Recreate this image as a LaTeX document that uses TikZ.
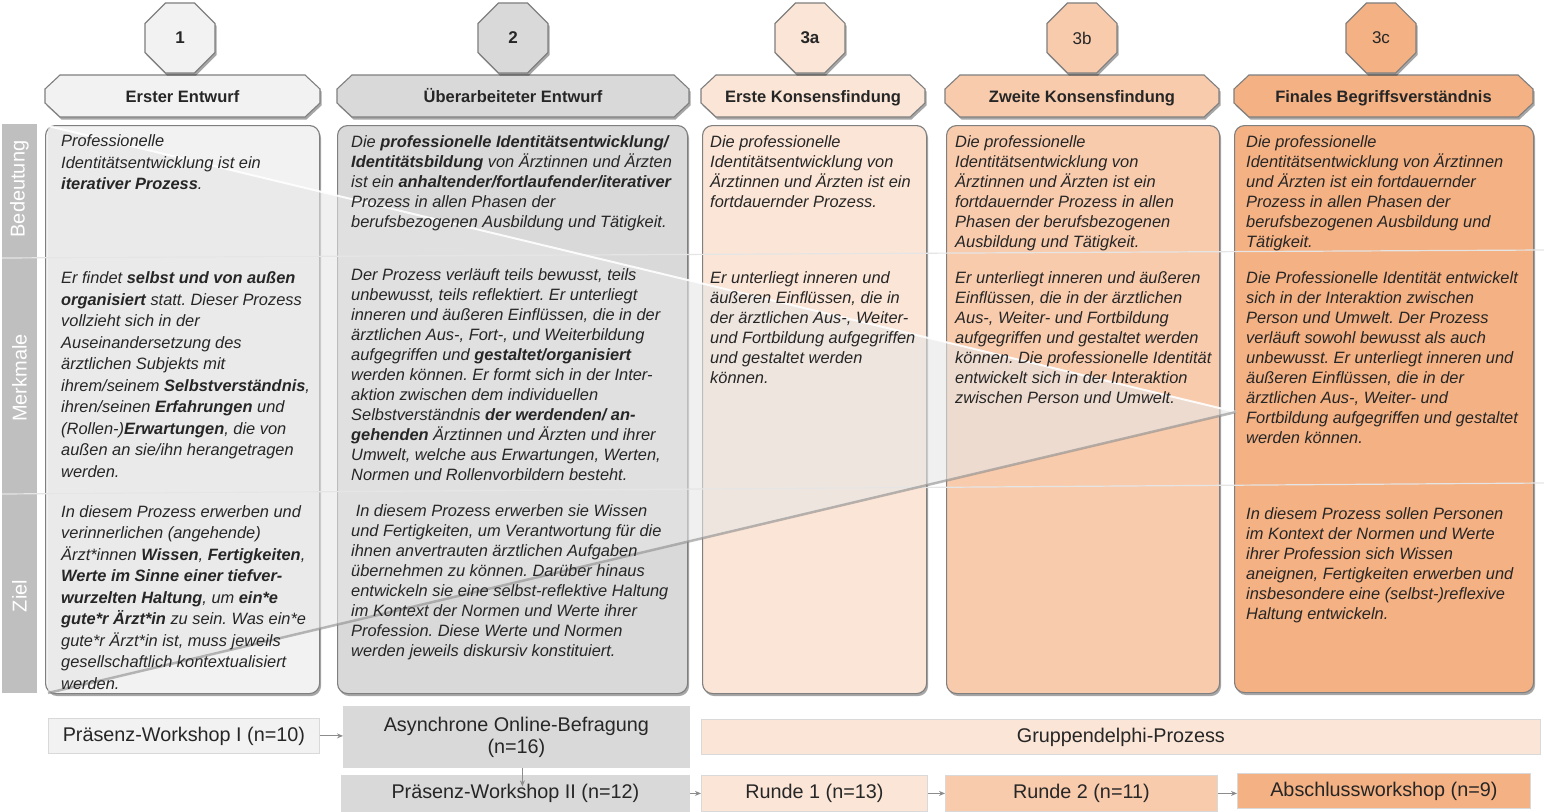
\documentclass[tikz,border=0pt]{standalone}
\usepackage{fontspec}
\setmainfont{Liberation Sans}
\usetikzlibrary{shapes.geometric,shadows,arrows.meta}
\definecolor{cA}{HTML}{F2F2F2}
\definecolor{cB}{HTML}{D9D9D9}
\definecolor{cC}{HTML}{FBE5D6}
\definecolor{cD}{HTML}{F8CBAD}
\definecolor{cE}{HTML}{F4B183}
\definecolor{bord}{HTML}{7F7F7F}
\definecolor{txtc}{HTML}{262626}
\definecolor{barc}{HTML}{BFBFBF}
\definecolor{wedgec}{HTML}{E6E6E6}
\newcommand\hdrbox[5]{%
  \path[hdrshape, fill=#4] (#2+15,75) -- (#3-15,75) -- (#3,89) -- (#3,103) -- (#3-15,117) -- (#2+15,117) -- (#2,103) -- (#2,89) -- cycle;
  \node[hdrtext] (#1) at ({(#2+#3)/2},102.3) {#5};}
\frenchspacing
\begin{document}
\begin{tikzpicture}[x=1pt,y=-1pt,
  shd/.style={drop shadow={shadow xshift=1.5pt,shadow yshift=-2.5pt,opacity=0.35,fill=black}},
  body/.style={draw=bord, line width=1.1pt, rounded corners=10pt, shd, anchor=north west, inner sep=0pt},
  hdrshape/.style={draw=bord, line width=1.1pt, shd},
  hdrtext/.style={anchor=base, inner sep=0pt, text=txtc, font=\fontsize{16.5pt}{18pt}\selectfont\bfseries},
  oct/.style={regular polygon, regular polygon sides=8, minimum size=75.8pt, inner sep=0pt, draw=bord, line width=1.1pt, shd, text=txtc, font=\fontsize{17pt}{18pt}\selectfont},
  barlab/.style={rotate=90, text=white, font=\fontsize{20pt}{22pt}\selectfont, inner sep=0pt},
  sepline/.style={draw=black!10, line width=1.2pt},
  txt/.style={anchor=north west, inner sep=0pt, align=left, text=txtc, font=\fontsize{16.4pt}{20pt}\selectfont\itshape},
  txtw/.style={txt, font=\fontsize{16.4pt}{21.5pt}\selectfont\itshape},
  proc/.style={draw=black!15, line width=0.8pt, anchor=north west, inner sep=0pt, text=txtc, align=center, font=\fontsize{19.8pt}{22pt}\selectfont},
  arr/.style={draw=black!45, line width=1pt, -{Stealth[length=6pt,width=5pt]}}]
\useasboundingbox (0,0) rectangle (1544,811);
\fill[white] (0,0) rectangle (1544,811);
% left bar
\fill[barc] (2,124) rectangle (37,693);
\node[barlab] (lb1) at (19.5,189) {Bedeutung};
\node[barlab] (lb2) at (19.5,378) {Merkmale};
\node[barlab] (lb3) at (19.5,596) {Ziel};
% column bodies
\node[body, fill=cA, minimum width=274pt, minimum height=568pt] (b1) at (45,125) {};
\node[body, fill=cB, minimum width=350pt, minimum height=568pt] (b2) at (337,125) {};
\node[body, fill=cC, minimum width=224pt, minimum height=568pt] (b3) at (702,125) {};
\node[body, fill=cD, minimum width=273pt, minimum height=568pt] (b4) at (946,125) {};
\node[body, fill=cE, minimum width=299pt, minimum height=567pt] (b5) at (1234,125) {};
% headers
\hdrbox{h1}{45}{320}{cA}{Erster Entwurf}
\hdrbox{h2}{337}{689}{cB}{Überarbeiteter Entwurf}
\hdrbox{h3}{701}{925}{cC}{Erste Konsensfindung}
\hdrbox{h4}{945}{1219}{cD}{Zweite Konsensfindung}
\hdrbox{h5}{1234}{1533}{cE}{Finales Begriffsverständnis}
% octagons
\node[oct, fill=cA] (o1) at (180,38) {\textbf{1}};
\node[oct, fill=cB] (o2) at (513,38) {\textbf{2}};
\node[oct, fill=cC] (o3) at (810,38) {\textbf{3a}};
\node[oct, fill=cD] (o4) at (1082,38) {3b};
\node[oct, fill=cE] (o5) at (1381,38) {3c};
% separator lines
\draw[sepline] (2,258) -- (1544,250);
\draw[sepline] (2,494) -- (1544,483);
% wedge
\fill[wedgec, opacity=0.6] (48,126) -- (1236,412) -- (48,693) -- cycle;
\draw[white, line width=2pt, opacity=0.9] (48,126) -- (1236,412);
\draw[black!45, line width=2.5pt, opacity=0.6] (48,693) -- (1236,412);
% column 1 texts
\node[txtw] (t11) at (61,131.5) {\strut Professionelle\\Identitätsentwicklung ist ein\\\textbf{iterativer Prozess}.};
\node[txtw] (t12) at (61,268.5) {\strut Er findet \textbf{selbst und von außen}\\
\textbf{organisiert} statt. Dieser Prozess\\
vollzieht sich in der\\
Auseinandersetzung des\\
ärztlichen Subjekts mit\\
ihrem/seinem \textbf{Selbstverständnis},\\
ihren/seinen \textbf{Erfahrungen} und\\
(Rollen-)\textbf{Erwartungen}, die von\\
außen an sie/ihn herangetragen\\
werden.};
\node[txtw] (t13) at (61,502) {\strut In diesem Prozess erwerben und\\
verinnerlichen (angehende)\\
Ärzt*innen \textbf{Wissen}, \textbf{Fertigkeiten},\\
\textbf{Werte im Sinne einer tiefver-}\\
\textbf{wurzelten Haltung}, um \textbf{ein*e}\\
\textbf{gute*r Ärzt*in} zu sein. Was ein*e\\
gute*r Ärzt*in ist, muss jeweils\\
gesellschaftlich kontextualisiert\\
werden.};
% column 2 texts
\node[txt] (t21) at (351,133) {\strut Die \textbf{professionelle Identitätsentwicklung/}\\
\textbf{Identitätsbildung} von Ärztinnen und Ärzten\\
ist ein \textbf{anhaltender/fortlaufender/iterativer}\\
Prozess in allen Phasen der\\
berufsbezogenen Ausbildung und Tätigkeit.};
\node[txt] (t22) at (351,266) {\strut Der Prozess verläuft teils bewusst, teils\\
unbewusst, teils reflektiert. Er unterliegt\\
inneren und äußeren Einflüssen, die in der\\
ärztlichen Aus-, Fort-, und Weiterbildung\\
aufgegriffen und \textbf{gestaltet/organisiert}\\
werden können. Er formt sich in der Inter-\\
aktion zwischen dem individuellen\\
Selbstverständnis \textbf{der werdenden/ an-}\\
\textbf{gehenden} Ärztinnen und Ärzten und ihrer\\
Umwelt, welche aus Erwartungen, Werten,\\
Normen und Rollenvorbildern besteht.};
\node[txt] (t23) at (351,502) {\strut\ In diesem Prozess erwerben sie Wissen\\
und Fertigkeiten, um Verantwortung für die\\
ihnen anvertrauten ärztlichen Aufgaben\\
übernehmen zu können. Darüber hinaus\\
entwickeln sie eine selbst-reflektive Haltung\\
im Kontext der Normen und Werte ihrer\\
Profession. Diese Werte und Normen\\
werden jeweils diskursiv konstituiert.};
% column 3a texts
\node[txt] (t31) at (710,133) {\strut Die professionelle\\
Identitätsentwicklung von\\
Ärztinnen und Ärzten ist ein\\
fortdauernder Prozess.};
\node[txt] (t32) at (710,269.5) {\strut Er unterliegt inneren und\\
äußeren Einflüssen, die in\\
der ärztlichen Aus-, Weiter-\\
und Fortbildung aufgegriffen\\
und gestaltet werden\\
können.};
% column 3b texts
\node[txt] (t41) at (955,133) {\strut Die professionelle\\
Identitätsentwicklung von\\
Ärztinnen und Ärzten ist ein\\
fortdauernder Prozess in allen\\
Phasen der berufsbezogenen\\
Ausbildung und Tätigkeit.};
\node[txt] (t42) at (955,269.5) {\strut Er unterliegt inneren und äußeren\\
Einflüssen, die in der ärztlichen\\
Aus-, Weiter- und Fortbildung\\
aufgegriffen und gestaltet werden\\
können. Die professionelle Identität\\
entwickelt sich in der Interaktion\\
zwischen Person und Umwelt.};
% column 3c texts
\node[txt] (t51) at (1246,133) {\strut Die professionelle\\
Identitätsentwicklung von Ärztinnen\\
und Ärzten ist ein fortdauernder\\
Prozess in allen Phasen der\\
berufsbezogenen Ausbildung und\\
Tätigkeit.};
\node[txt] (t52) at (1246,269) {\strut Die Professionelle Identität entwickelt\\
sich in der Interaktion zwischen\\
Person und Umwelt. Der Prozess\\
verläuft sowohl bewusst als auch\\
unbewusst. Er unterliegt inneren und\\
äußeren Einflüssen, die in der\\
ärztlichen Aus-, Weiter- und\\
Fortbildung aufgegriffen und gestaltet\\
werden können.};
\node[txt] (t53) at (1246,505) {\strut In diesem Prozess sollen Personen\\
im Kontext der Normen und Werte\\
ihrer Profession sich Wissen\\
aneignen, Fertigkeiten erwerben und\\
insbesondere eine (selbst-)reflexive\\
Haltung entwickeln.};
% process boxes
\node[proc, fill=cA, minimum width=271pt, minimum height=35pt] (pw1) at (48,718) {Präsenz-Workshop I (n=10)};
\node[proc, fill=cB, minimum width=346pt, minimum height=61pt] (aob) at (343,706) {Asynchrone Online-Befragung\\(n=16)};
\node[proc, fill=cB, minimum width=348pt, minimum height=36pt] (pw2) at (341,775) {Präsenz-Workshop II (n=12)};
\node[proc, fill=cC, minimum width=839pt, minimum height=35pt] (grp) at (701,719) {Gruppendelphi-Prozess};
\node[proc, fill=cC, minimum width=226pt, minimum height=36pt] (r1) at (701,775) {Runde 1 (n=13)};
\node[proc, fill=cD, minimum width=272pt, minimum height=36pt] (r2) at (945,775) {Runde 2 (n=11)};
\node[proc, fill=cE, minimum width=293pt, minimum height=35pt] (aw) at (1237,773) {Abschlussworkshop (n=9)};
% arrows
\draw[arr] (pw1.east) -- (pw1.east -| aob.west);
\draw[arr, shorten >=7pt] ([xshift=6pt]aob.south) -- ([xshift=6pt]aob.south |- pw2.center);
\draw[arr] (pw2.east) -- (r1.west);
\draw[arr] (r1.east) -- (r2.west);
\draw[arr] (r2.east) -- (r2.east -| aw.west);
\end{tikzpicture}
\end{document}
